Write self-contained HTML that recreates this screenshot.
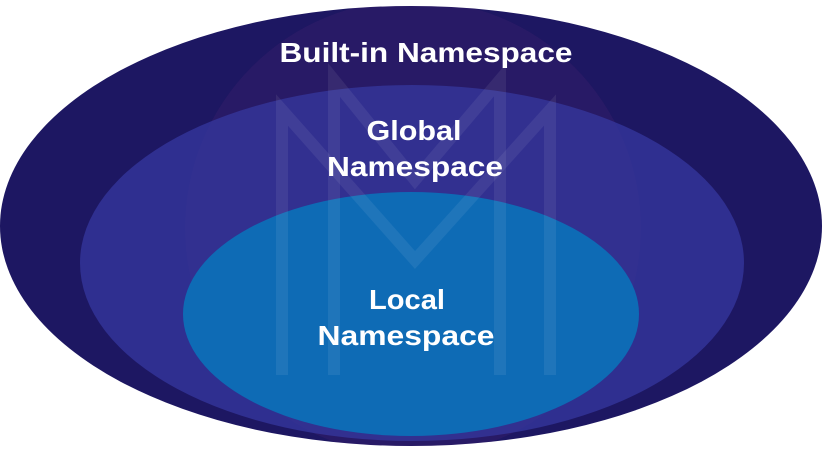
<!DOCTYPE html>
<html><head><meta charset="utf-8"><style>
html,body{margin:0;padding:0;background:#fff;}
svg{display:block}
text{font-family:"Liberation Sans",sans-serif;font-weight:bold;fill:#fff;font-size:28px;text-anchor:middle}
</style></head><body>
<svg width="828" height="451" viewBox="0 0 828 451">
<defs><clipPath id="c"><ellipse cx="411" cy="226" rx="411" ry="220"/></clipPath></defs>
<ellipse cx="411" cy="226" rx="411" ry="220" fill="#1d1762"/>
<g clip-path="url(#c)">
<circle cx="413" cy="228" r="228" fill="rgba(110,40,110,0.10)"/>
<ellipse cx="412" cy="263" rx="332" ry="178" fill="#2f2f90"/>
<circle cx="413" cy="228" r="228" fill="rgba(110,60,160,0.06)"/>
<ellipse cx="411" cy="314" rx="228" ry="122" fill="#0e6bb5"/>
<g fill="none" stroke="rgba(255,255,255,0.07)" stroke-width="12">
<path d="M282 375 V110 L415 260 L550 110 V375"/>
<path d="M334 375 V80 L415 180 L500 80 V375"/>
</g>
</g>
<text x="426" y="62" textLength="293" lengthAdjust="spacingAndGlyphs">Built-in Namespace</text>
<text x="414" y="140" textLength="95" lengthAdjust="spacingAndGlyphs">Global</text>
<text x="415" y="176" textLength="176" lengthAdjust="spacingAndGlyphs">Namespace</text>
<text x="407" y="309" textLength="76" lengthAdjust="spacingAndGlyphs">Local</text>
<text x="406" y="345" textLength="177" lengthAdjust="spacingAndGlyphs">Namespace</text>
</svg>
</body></html>
